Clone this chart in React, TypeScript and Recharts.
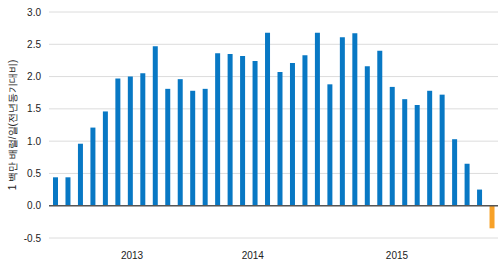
import { BarChart, Bar, XAxis, YAxis, CartesianGrid, ReferenceLine, Cell } from 'recharts'

const PERIODS = [
  'p01', 'p02', 'p03', 'p04', 'p05', 'p06', 'p07', 'p08', 'p09', 'p10', 'p11', 'p12',
  'p13', 'p14', 'p15', 'p16', 'p17', 'p18', 'p19', 'p20', 'p21', 'p22', 'p23', 'p24',
  'p25', 'p26', 'p27', 'p28', 'p29', 'p30', 'p31', 'p32', 'p33', 'p34', 'p35', 'p36',
]

const VALUES = [
  0.44, 0.44, 0.96, 1.21, 1.46, 1.97, 2.0, 2.05, 2.47, 1.81, 1.96, 1.78,
  1.81, 2.36, 2.35, 2.32, 2.24, 2.68, 2.07, 2.21, 2.33, 2.68, 1.88, 2.61,
  2.67, 2.16, 2.4, 1.84, 1.65, 1.56, 1.78, 1.72, 1.03, 0.65, 0.25, -0.35,
]

// year labels sit on these periods (the source labels are a bit off-centre)
const YEAR_TICKS = ['p07', 'p17', 'p28']
const YEAR_LABELS = ['2013', '2014', '2015']
const YEAR_SHIFT = [2, -2, 5]

const Y_TICKS = [-0.5, 0, 0.5, 1, 1.5, 2, 2.5, 3]

const data = PERIODS.map((p, i) => ({ p, v: VALUES[i] }))

const FONT = '"Liberation Sans", Arial, sans-serif'

function YearTick(props: any) {
  const { x, y, payload } = props
  const idx = YEAR_TICKS.indexOf(payload.value)
  if (idx < 0) return null
  return (
    <text
      x={x + YEAR_SHIFT[idx]}
      y={y + 6}
      dy="0.71em"
      textAnchor="middle"
      fontSize={10}
      fill="#222"
      fontFamily={FONT}
    >
      {YEAR_LABELS[idx]}
    </text>
  )
}

export default function App() {
  return (
    <div style={{ position: 'absolute', left: 0, top: 0, background: '#fff' }}>
      <BarChart
        width={504}
        height={265}
        data={data}
        margin={{ top: 12, right: 6, bottom: 0, left: 0 }}
        barCategoryGap={0}
      >
        <CartesianGrid vertical={false} stroke="#dcdcdc" />
        <XAxis
          dataKey="p"
          ticks={YEAR_TICKS}
          axisLine={false}
          tickLine={false}
          height={27}
          tick={<YearTick />}
          interval={0}
        />
        <YAxis
          domain={[-0.5, 3]}
          ticks={Y_TICKS}
          tickFormatter={(v: number) => v.toFixed(1)}
          axisLine={false}
          tickLine={false}
          width={49}
          tick={{ fontSize: 10, fill: '#222', fontFamily: FONT }}
          label={{
            value: '1 백만 배럴/일(전년동기대비)',
            angle: -90,
            position: 'insideLeft',
            offset: 12,
            style: { fontSize: 10, fill: '#222', fontFamily: FONT, textAnchor: 'middle' },
          }}
        />
        <Bar dataKey="v" barSize={5} isAnimationActive={false}>
          {data.map((d) => (
            <Cell key={d.p} fill={d.v < 0 ? '#f7a128' : '#0878c4'} />
          ))}
        </Bar>
        <ReferenceLine y={0} stroke="#555" strokeWidth={1.5} />
      </BarChart>
    </div>
  )
}
